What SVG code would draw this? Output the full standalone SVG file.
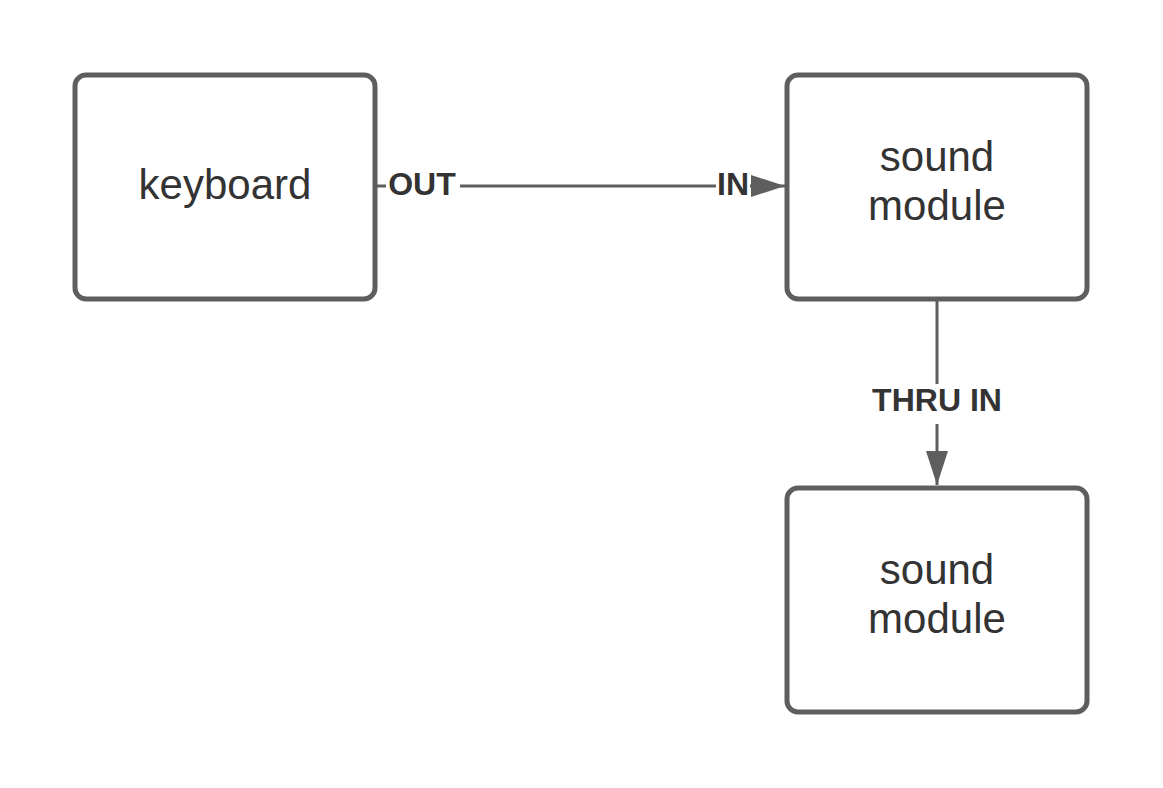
<svg xmlns="http://www.w3.org/2000/svg" width="1163" height="788" viewBox="0 0 1163 788">
<style>
.box{fill:#fff;stroke:#5e5e5e;stroke-width:5}
.lbl{font-family:"Liberation Sans",Arial,sans-serif;font-size:42px;fill:#333;text-anchor:middle}
.edge{stroke:#5e5e5e;stroke-width:3;fill:none}
.elbl{font-family:"Liberation Sans",Arial,sans-serif;font-size:32px;font-weight:bold;fill:#333;text-anchor:middle}
</style>
<defs>
<marker id="arr" markerUnits="userSpaceOnUse" markerWidth="36" markerHeight="22" refX="34" refY="11" orient="auto">
<path d="M0,0 L34,11 L0,22 z" fill="#5e5e5e"/>
</marker>
</defs>
<rect width="1163" height="788" fill="#fff"/>
<g id="edges">
<line class="edge" x1="377" y1="186" x2="785" y2="186" marker-end="url(#arr)"/>
<rect x="386" y="168" width="74" height="34" fill="#fff"/>
<text class="elbl" x="422" y="195">OUT</text>
<rect x="716" y="168" width="34" height="34" fill="#fff"/>
<text class="elbl" x="733" y="195">IN</text>
<line class="edge" x1="937" y1="299" x2="937" y2="485" marker-end="url(#arr)"/>
<rect x="866" y="384" width="142" height="40" fill="#fff"/>
<text class="elbl" x="937" y="411">THRU IN</text>
</g>
<g id="keyboard">
<rect class="box" x="75" y="75" width="300" height="224" rx="11"/>
<text class="lbl" x="225" y="199">keyboard</text>
</g>
<g id="sound-module-1">
<rect class="box" x="787" y="75" width="300" height="224" rx="11"/>
<text class="lbl" x="937" y="171">sound</text>
<text class="lbl" x="937" y="220">module</text>
</g>
<g id="sound-module-2">
<rect class="box" x="787" y="488" width="300" height="224" rx="11"/>
<text class="lbl" x="937" y="584">sound</text>
<text class="lbl" x="937" y="633">module</text>
</g>
</svg>
